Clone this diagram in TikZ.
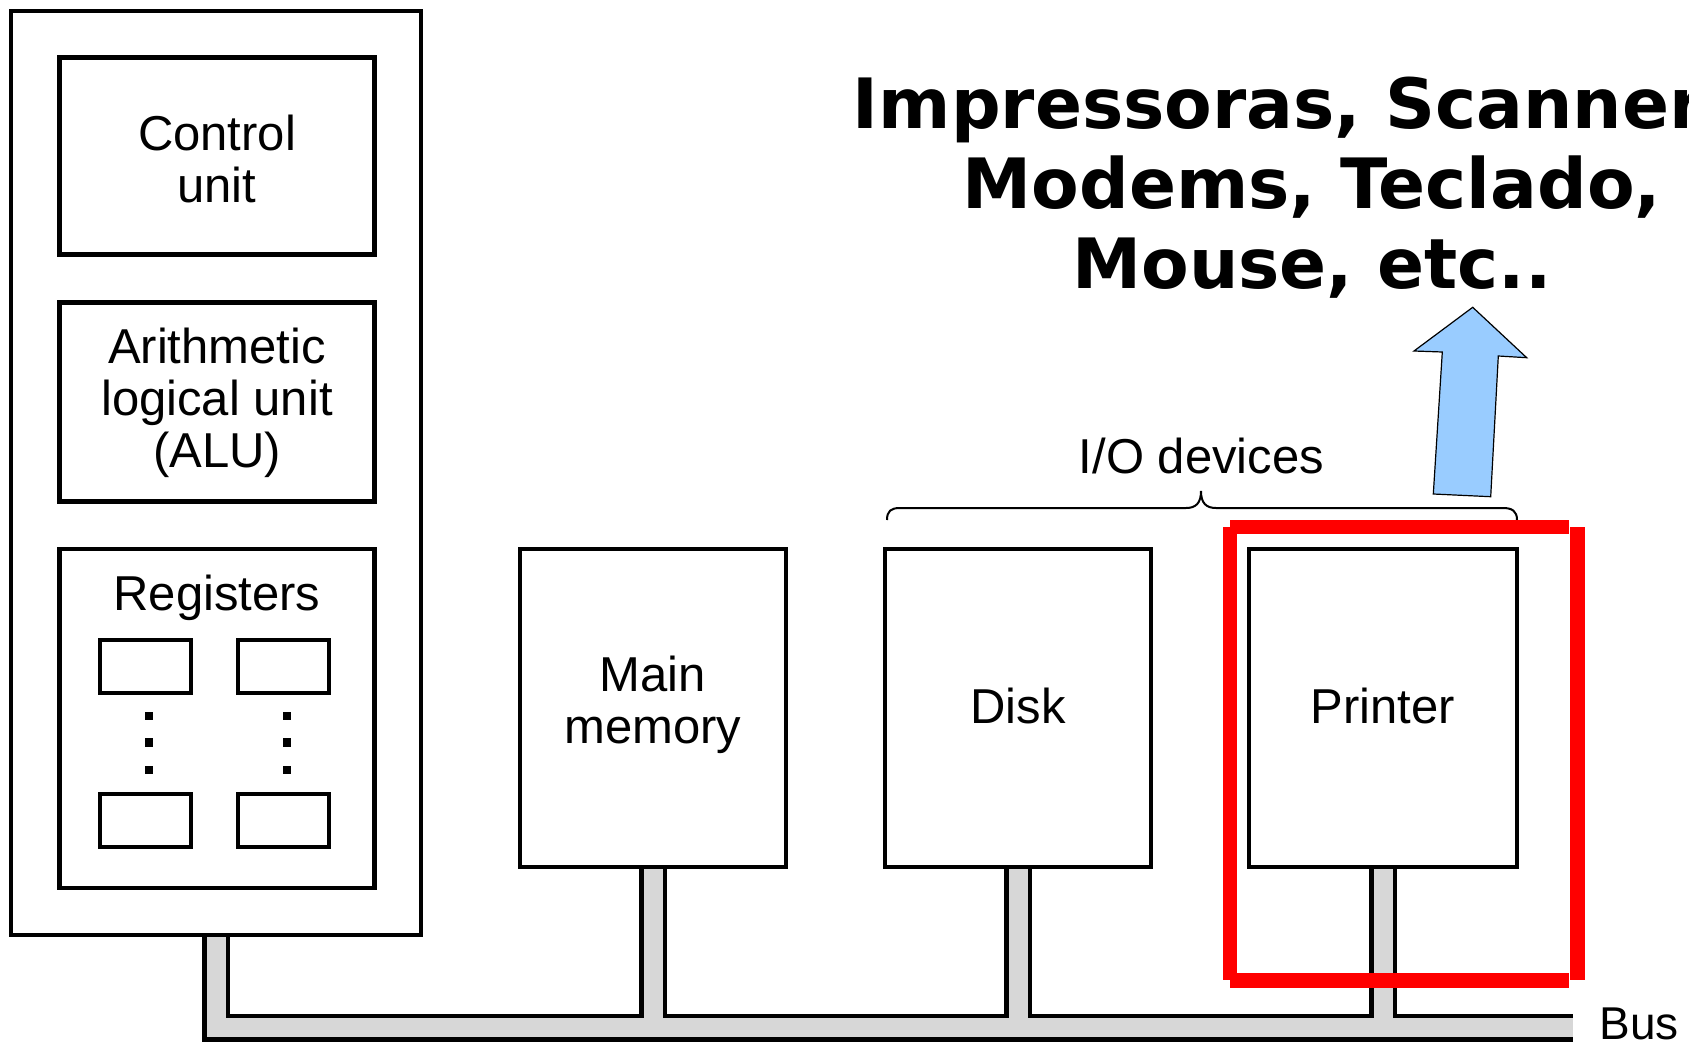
\documentclass[tikz,border=0pt]{standalone}
\usepackage{fontspec}
\setmainfont{Liberation Sans}
\newfontfamily\dejavu{DejaVu Sans}
\usetikzlibrary{backgrounds}
\definecolor{busgray}{RGB}{215,215,215}
\definecolor{arrowblue}{RGB}{153,204,255}
\definecolor{hired}{RGB}{255,0,0}
\begin{document}
\begin{tikzpicture}[x=1pt,y=-1pt,
  box/.style={draw=black, line width=4.3pt, fill=white, rectangle, inner sep=0pt, outer sep=0pt},
  regbox/.style={draw=black, line width=4pt, fill=white, rectangle, inner sep=0pt, outer sep=0pt, minimum width=91pt, minimum height=53pt},
  lbl/.style={inner sep=0pt, outer sep=0pt, align=center, font=\fontsize{49}{52}\selectfont},
  busouter/.style={draw=black, line width=28pt, line cap=butt, line join=miter},
  businner/.style={draw=busgray, line width=19pt, line cap=butt, line join=miter},
  redbar/.style={fill=hired, draw=none},
  regdot/.style={fill=black, draw=none, minimum size=8.3pt, inner sep=0pt, rectangle},
  bluearrow/.style={fill=arrowblue, draw=black, line width=1.2pt, line join=miter},
  bracestyle/.style={draw=black, line width=2pt}
]
\useasboundingbox (0,0) rectangle (1689,1043);

% CPU
\node[box, minimum width=410pt, minimum height=924pt] (cpu) at (216.3,473.2) {};
\node[box, minimum width=315pt, minimum height=197pt] (cu) at (217,156) {};
\node[lbl] (cutext) at ([yshift=-3.2pt]cu.center) {Control\\unit};
\node[box, minimum width=315pt, minimum height=199pt] (alu) at (217,402) {};
\node[lbl] (alutext) at ([yshift=-0.5pt]alu.center) {Arithmetic\\logical unit\\(ALU)};
\node[box, minimum width=315pt, minimum height=339pt] (regs) at (217,718.5) {};
\node[lbl, anchor=base] (regslbl) at (217,610) {Registers};
\node[regbox] (r1) at (145.5,666.7) {};
\node[regbox] (r2) at (283.5,666.7) {};
\node[regbox] (r3) at (145.5,820.3) {};
\node[regbox] (r4) at (283.5,820.3) {};
\node[regdot] (d1) at (149.2,715.8) {};
\node[regdot] (d2) at (149.2,742.5) {};
\node[regdot] (d3) at (149.2,770.2) {};
\node[regdot] (d4) at (286.8,715.8) {};
\node[regdot] (d5) at (286.8,742.5) {};
\node[regdot] (d6) at (286.8,770.2) {};

% Memory and devices
\node[box, minimum width=266pt, minimum height=318pt] (mem) at (653,708) {};
\node[lbl] (memtext) at ([yshift=3.5pt]mem.center) {Main\\memory};
\node[box, minimum width=266pt, minimum height=318pt] (disk) at (1018,708) {};
\node[lbl] (disktext) at ([yshift=2pt]disk.center) {Disk};
\node[box, minimum width=268pt, minimum height=318pt] (printer) at (1383,708) {};
\node[lbl] (printertext) at ([yshift=2pt]printer.center) {Printer};

% Bus
\coordinate (busend) at (1573,1027.5);
\begin{scope}[on background layer]
  \draw[busouter] (cpu.south) -- (cpu.south |- busend) -- (busend);
  \foreach \n in {mem,disk,printer} \draw[busouter] (\n.south) -- (\n.south |- busend);
  \draw[businner] (cpu.south) -- (cpu.south |- busend) -- (busend);
  \foreach \n in {mem,disk,printer} \draw[businner] (\n.south) -- (\n.south |- busend);
\end{scope}
\node[anchor=base west, inner sep=0pt, font=\fontsize{46}{50}\selectfont] (buslbl) at (1599.5,1039) {Bus};

% I/O devices brace
\draw[bracestyle] (887,520) .. controls (887,511) and (891,508) .. (900,508) -- (1186,508)
  .. controls (1196,508) and (1201,503) .. (1201,491)
  .. controls (1201,503) and (1206,508) .. (1216,508) -- (1503,508)
  .. controls (1512,508) and (1517,511) .. (1517,520);
\node[lbl, anchor=base] (iolbl) at (1201.5,473.5) {I/O devices};

% Red highlight
\fill[redbar] (1230,520) rectangle (1569,534);
\fill[redbar] (1230,973) rectangle (1569,988);
\fill[redbar] (1223,527) rectangle (1237,980);
\fill[redbar] (1570,527) rectangle (1585,980);

% Blue arrow
\draw[bluearrow] (1472.7,307.3) -- (1526.7,357.7) -- (1498.3,356) -- (1490.7,496.7)
  -- (1433.3,494) -- (1442.3,352) -- (1414,351) -- cycle;

% Title text
\node[anchor=base, align=center, inner sep=0pt, font=\dejavu\bfseries\fontsize{69.4}{80}\selectfont] (title) at (1312,288.3) {Impressoras, Scanners,\\Modems, Teclado,\\Mouse, etc..};
\end{tikzpicture}
\end{document}
